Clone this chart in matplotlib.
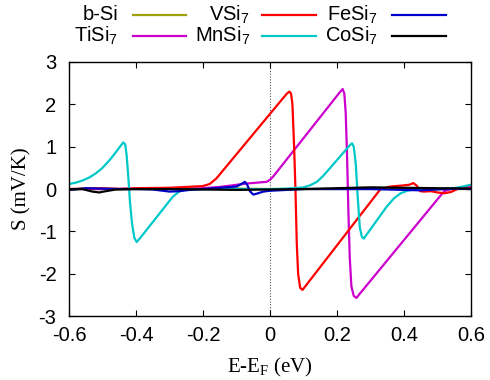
import numpy as np
import matplotlib
matplotlib.use("Agg")
import matplotlib.pyplot as plt
from matplotlib.lines import Line2D

plt.rcParams["font.family"] = ["Liberation Sans", "DejaVu Sans"]
plt.rcParams["mathtext.default"] = "regular"

# Seebeck coefficient S(E) of bulk Si and TM-doped Si7 cells
x_bsi = [-0.6, -0.4, -0.2, -0.1, 0.0, 0.2, 0.4, 0.6]
s_bsi = [0.0, 0.0, 0.0, 0.01, 0.0, 0.0, 0.0, 0.0]

x_tisi = [-0.6, -0.5, -0.4, -0.3, -0.2, -0.15, -0.1, -0.07, -0.04, -0.01, 0.0, 0.01,
          0.21, 0.217, 0.222, 0.226, 0.23, 0.234, 0.238, 0.243, 0.25, 0.258, 0.265,
          0.52, 0.54, 0.57, 0.6]
s_tisi = [0.0, 0.0, 0.01, 0.0, 0.02, 0.05, 0.1, 0.13, 0.15, 0.17, 0.22, 0.3,
          2.3, 2.36, 2.25, 1.8, 0.8, -0.5, -1.6, -2.3, -2.52, -2.57, -2.5,
          -0.05, 0.0, 0.02, 0.05]

x_vsi = [-0.6, -0.5, -0.45, -0.4, -0.3, -0.25, -0.2, -0.18, -0.16,
         0.05, 0.058, 0.063, 0.067, 0.072, 0.076, 0.08, 0.084, 0.09, 0.097, 0.105,
         0.33, 0.36, 0.39, 0.415, 0.428, 0.438, 0.448, 0.46, 0.48, 0.5, 0.52, 0.54,
         0.56, 0.58, 0.6]
s_vsi = [0.0, 0.02, 0.0, 0.02, 0.03, 0.05, 0.07, 0.12, 0.25,
         2.25, 2.3, 2.25, 2.0, 1.0, 0.0, -1.3, -2.0, -2.33, -2.38, -2.3,
         0.0, 0.06, 0.08, 0.1, 0.14, 0.08, -0.05, -0.06, -0.05, -0.08, -0.1, -0.07,
         0.0, 0.05, 0.1]

x_mnsi = [-0.6, -0.58, -0.56, -0.54, -0.52, -0.5, -0.478, -0.46, -0.445, -0.438,
          -0.432, -0.428, -0.423, -0.418, -0.412, -0.405, -0.398, -0.39,
          -0.29, -0.27, -0.25, -0.2, 0.0, 0.05, 0.1, 0.12, 0.14, 0.16,
          0.238, 0.245, 0.25, 0.256, 0.262, 0.268, 0.274, 0.28, 0.288,
          0.348, 0.37, 0.39, 0.41, 0.43, 0.5, 0.55, 0.6]
s_mnsi = [0.12, 0.15, 0.2, 0.27, 0.37, 0.5, 0.69, 0.87, 1.03, 1.1,
          1.05, 0.8, 0.3, -0.3, -0.8, -1.15, -1.25, -1.18,
          -0.18, -0.05, -0.01, 0.0, 0.0, 0.01, 0.04, 0.09, 0.17, 0.32,
          1.03, 1.08, 1.0, 0.6, -0.2, -0.9, -1.12, -1.17, -1.08,
          -0.42, -0.22, -0.1, -0.04, -0.01, 0.0, 0.02, 0.1]

x_fesi = [-0.6, -0.55, -0.5, -0.45, -0.4, -0.35, -0.3, -0.27, -0.24, -0.2, -0.15,
          -0.1, -0.085, -0.075, -0.068, -0.06, -0.05, -0.04, -0.02, 0.0, 0.05,
          0.1, 0.2, 0.3, 0.4, 0.45, 0.5, 0.55, 0.6]
s_fesi = [-0.02, 0.02, 0.01, 0.0, 0.0, -0.01, -0.06, -0.05, -0.02, 0.0, 0.03,
          0.06, 0.12, 0.17, 0.1, -0.05, -0.13, -0.11, -0.06, -0.04, -0.02,
          0.0, 0.0, 0.0, -0.02, -0.03, -0.01, 0.01, 0.0]

x_cosi = [-0.6, -0.56, -0.53, -0.51, -0.49, -0.46, -0.4, -0.3, -0.2, -0.1, 0.0,
          0.1, 0.2, 0.3, 0.4, 0.5, 0.6]
s_cosi = [-0.01, 0.0, -0.06, -0.08, -0.05, -0.01, 0.0, 0.0, -0.01, -0.02, -0.01,
          0.0, 0.02, 0.04, 0.03, 0.02, 0.01]

series = [
    ("b-Si", x_bsi, s_bsi, "#a0a010"),
    ("TiSi$_7$", x_tisi, s_tisi, "#cc00cc"),
    ("VSi$_7$", x_vsi, s_vsi, "#ff0000"),
    ("MnSi$_7$", x_mnsi, s_mnsi, "#00c8c8"),
    ("FeSi$_7$", x_fesi, s_fesi, "#0000cc"),
    ("CoSi$_7$", x_cosi, s_cosi, "#000000"),
]

fig = plt.figure(figsize=(4.9, 3.8), dpi=100)
ax = fig.add_axes([0.1408, 0.168, 0.8204, 0.669])

ax.axvline(0.0, color="#555555", lw=0.8, ls=(0, (1, 1.5)), zorder=1)
for label, xs, ys, c in series:
    ax.plot(xs, ys, color=c, lw=1.6, solid_joinstyle="round", zorder=2)

ax.set_xlim(-0.6, 0.6)
ax.set_ylim(-3, 3)
ax.set_xticks(np.arange(-0.6, 0.61, 0.2))
ax.set_xticklabels(["-0.6", "-0.4", "-0.2", "0", "0.2", "0.4", "0.6"])
ax.set_yticks(range(-3, 4))
ax.set_yticklabels([str(v) for v in range(-3, 4)])
ax.tick_params(direction="in", top=True, right=True, length=4, width=0.8,
               labelsize=14.5)
ax.tick_params(axis="x", pad=7)
ax.tick_params(axis="y", pad=9)
for sp in ax.spines.values():
    sp.set_linewidth(1.0)

ax.set_xlabel("E-E$_F$ (eV)", fontfamily="Liberation Serif", fontsize=15, va="center")
ax.set_ylabel("S (mV/K)", fontfamily="Liberation Serif", fontsize=15, va="center")
ax.xaxis.set_label_coords(0.5, -0.20)
ax.yaxis.set_label_coords(-0.117, 0.5)

# key in two rows, label then sample
W, H = 490.0, 380.0
text_right = [118, 250, 378]
line_span = [(133, 186), (262, 316), (392, 446)]
row_y = [15, 36]
for i, (label, xs, ys, c) in enumerate(series):
    col, row = i // 2, i % 2
    yf = 1 - row_y[row] / H
    fig.text(text_right[col] / W, yf, label, ha="right", va="center", fontsize=14.5)
    x0, x1 = line_span[col]
    fig.add_artist(Line2D([x0 / W, x1 / W], [yf, yf], color=c, lw=1.6,
                          transform=fig.transFigure))

fig.savefig("out.png", dpi=100)
